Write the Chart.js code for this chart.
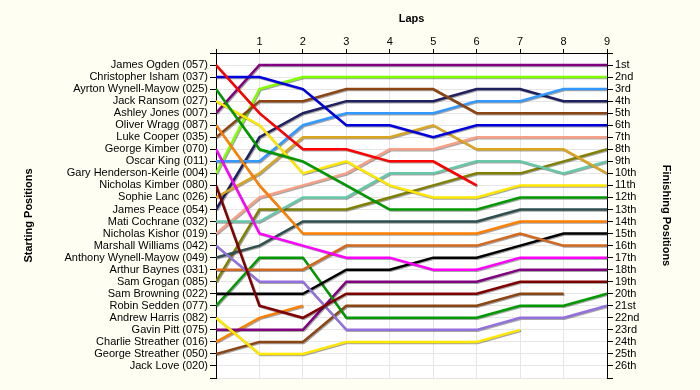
<!DOCTYPE html>
<html>
<head>
<meta charset="utf-8">
<title>Lap Chart</title>
<script src="https://cdn.jsdelivr.net/npm/chart.js@4/dist/chart.umd.min.js"></script>
<style>
    body { margin: 0; background: #fffef3; }
    canvas { display: block; }
</style>
</head>
<body>
<canvas id="lapChart" width="700" height="390"></canvas>
<script>
// Drivers in starting order (left axis labels)
const drivers = [
    'James Ogden (057)', 'Christopher Isham (037)', 'Ayrton Wynell-Mayow (025)', 'Jack Ransom (027)',
    'Ashley Jones (007)', 'Oliver Wragg (087)', 'Luke Cooper (035)', 'George Kimber (070)',
    'Oscar King (011)', 'Gary Henderson-Keirle (004)', 'Nicholas Kimber (080)', 'Sophie Lanc (026)',
    'James Peace (054)', 'Mati Cochrane (032)', 'Nicholas Kishor (019)', 'Marshall Williams (042)',
    'Anthony Wynell-Mayow (049)', 'Arthur Baynes (031)', 'Sam Grogan (085)', 'Sam Browning (022)',
    'Robin Sedden (077)', 'Andrew Harris (082)', 'Gavin Pitt (075)', 'Charlie Streather (016)',
    'George Streather (050)', 'Jack Love (020)'
];

// Right axis labels
const finishLabels = [
    '1st', '2nd', '3rd', '4th', '5th', '6th', '7th', '8th', '9th', '10th', '11th', '12th', '13th',
    '14th', '15th', '16th', '17th', '18th', '19th', '20th', '21st', '22nd', '23rd', '24th', '25th', '26th'
];

// Lap numbers (0 = grid)
const laps = [0, 1, 2, 3, 4, 5, 6, 7, 8, 9];

// Position of each driver after each lap, same order as drivers (null = retired)
const lapPositions = [
    [1, 5, 8, 8, 9, 9, 11, null, null, null],
    [2, 2, 3, 6, 6, 7, 6, 6, 6, 6],
    [3, 8, 9, 11, 13, 13, 13, 12, 12, 12],
    [4, 6, 10, 9, 11, 12, 12, 11, 11, 11],
    [5, 1, 1, 1, 1, 1, 1, 1, 1, 1],
    [6, 11, 15, 15, 15, 15, 15, 14, 14, 14],
    [7, 4, 4, 3, 3, 3, 5, 5, 5, 5],
    [8, 15, 16, 17, 17, 18, 18, 17, 17, 17],
    [9, 9, 6, 5, 5, 5, 4, 4, 3, 3],
    [10, 3, 2, 2, 2, 2, 2, 2, 2, 2],
    [11, 21, 22, 20, 20, 20, 20, 19, 19, 19],
    [12, 10, 7, 7, 7, 6, 8, 8, 8, 10],
    [13, 7, 5, 4, 4, 4, 3, 3, 4, 4],
    [14, 14, 12, 12, 10, 10, 9, 9, 10, 9],
    [15, 12, 11, 10, 8, 8, 7, 7, 7, 7],
    [16, 19, 19, 23, 23, 23, 23, 22, 22, 21],
    [17, 16, 14, 14, 14, 14, 14, 13, 13, 13],
    [18, 18, 18, 16, 16, 16, 16, 15, 16, 16],
    [19, 13, 13, 13, 12, 11, 10, 10, 9, 8],
    [20, 20, 20, 18, 18, 17, 17, 16, 15, 15],
    [21, 17, 17, 22, 22, 22, 22, 21, 21, 20],
    [22, 25, 25, 24, 24, 24, 24, 23, null, null],
    [23, 23, 23, 19, 19, 19, 19, 18, 18, 18],
    [24, 22, 21, null, null, null, null, null, null, null],
    [25, 24, 24, 21, 21, 21, 21, 20, 20, null],
    []
];

// Line colours, same order as drivers
const lineColors = [
    '#ff0000', '#0000dd', '#009900', '#ffe800', '#800080', '#ff8000', '#8b4513', '#ff00ff',
    '#3399ff', '#80ff00', '#800000', '#daa520', '#202060', '#66c8a8', '#f7a088', '#9370db',
    '#2f4f4f', '#d2691e', '#808000', '#000000', '#009900', '#ffe800', '#800080', '#ff8000',
    '#8b4513', '#000000'
];

document.addEventListener('DOMContentLoaded', function() {
    const datasets = drivers.map(function(name, i) {
        const points = [];
        lapPositions[i].forEach(function(pos, lap) {
            if (pos !== null) points.push({ x: laps[lap], y: pos });
        });
        return {
            label: name,
            data: points,
            borderColor: lineColors[i],
            borderWidth: 2.5,
            pointRadius: 0,
            tension: 0,
            fill: false
        };
    });

    // White plot area + drop shadow under the lines
    const plotStyle = {
        id: 'plotStyle',
        beforeDraw(chart) {
            const { ctx, chartArea } = chart;
            ctx.save();
            ctx.fillStyle = '#ffffff';
            ctx.fillRect(chartArea.left, chartArea.top, chartArea.right - chartArea.left, chartArea.bottom - chartArea.top);
            ctx.restore();
        },
        beforeDatasetsDraw(chart) {
            const ctx = chart.ctx;
            ctx.save();
            ctx.shadowColor = 'rgba(0,0,0,0.35)';
            ctx.shadowOffsetX = 1;
            ctx.shadowOffsetY = 1;
            ctx.shadowBlur = 0;
        },
        afterDatasetsDraw(chart) {
            chart.ctx.restore();
        }
    };

    const tickFont = { family: 'Liberation Sans, Arial, sans-serif', size: 11 };
    const titleFont = { family: 'Liberation Sans, Arial, sans-serif', size: 11, weight: 'bold' };

    const posTicks = {
        stepSize: 1,
        autoSkip: false,
        maxTicksLimit: 40,
        color: '#000',
        font: tickFont,
        padding: 2
    };

    new Chart(document.getElementById('lapChart'), {
        type: 'line',
        data: { datasets: datasets },
        plugins: [plotStyle],
        options: {
            responsive: false,
            animation: false,
            layout: { padding: { left: 0, right: 0, top: 0, bottom: 12 } },
            plugins: {
                legend: { display: false },
                tooltip: { enabled: false }
            },
            scales: {
                x: {
                    type: 'linear',
                    position: 'top',
                    min: 0,
                    max: 9,
                    ticks: {
                        stepSize: 1,
                        color: '#000',
                        font: tickFont,
                        padding: 0,
                        callback: v => v === 0 ? '' : v
                    },
                    grid: { color: '#e6e6e6', tickColor: '#000', tickLength: 4 },
                    border: { color: '#000' },
                    title: { display: true, text: 'Laps', color: '#000', font: titleFont, padding: { top: 12 } },
                    afterFit(scale) { scale.height = 53; }
                },
                y: {
                    type: 'linear',
                    position: 'left',
                    reverse: true,
                    min: 0,
                    max: 27,
                    ticks: Object.assign({}, posTicks, {
                        callback: v => drivers[v - 1] || ''
                    }),
                    grid: { color: '#e6e6e6', tickColor: '#000', tickLength: 6 },
                    border: { color: '#000' },
                    title: { display: true, text: 'Starting Positions', color: '#000', font: titleFont, padding: { top: 22 } },
                    afterFit(scale) { scale.width = 216; }
                },
                y2: {
                    type: 'linear',
                    position: 'right',
                    reverse: true,
                    min: 0,
                    max: 27,
                    ticks: Object.assign({}, posTicks, {
                        callback: v => finishLabels[v - 1] || ''
                    }),
                    grid: { drawOnChartArea: false, tickColor: '#000', tickLength: 6 },
                    border: { color: '#000' },
                    title: { display: true, text: 'Finishing Positions', color: '#000', font: titleFont, padding: { top: 27 } },
                    afterFit(scale) { scale.width = 93; }
                }
            }
        }
    });
});
</script>
</body>
</html>
